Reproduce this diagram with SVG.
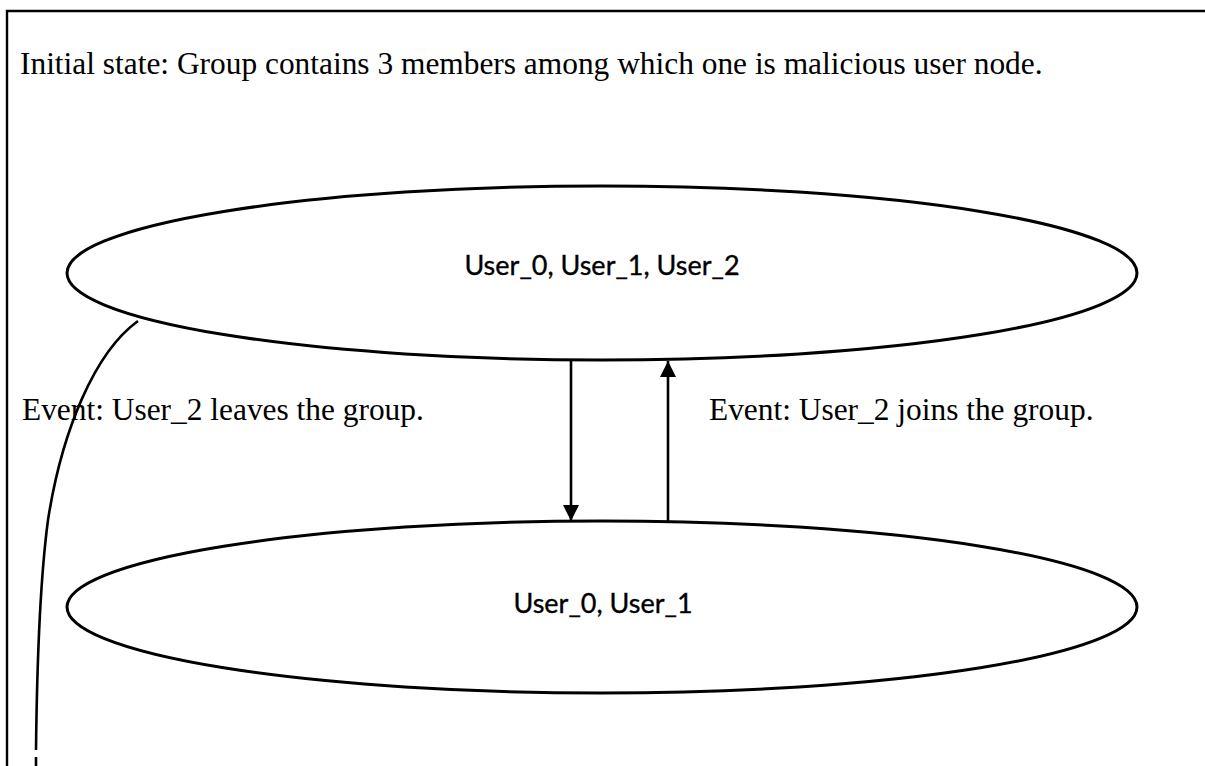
<svg xmlns="http://www.w3.org/2000/svg" width="1205" height="766" viewBox="0 0 1205 766">
  <style>
    .frame { fill: none; stroke: #000; stroke-width: 2.4; }
    .state { fill: none; stroke: #000; stroke-width: 3; }
    .edge { fill: none; stroke: #000; stroke-width: 2.6; }
    .serif { font-family: "Liberation Serif", "Times New Roman", serif; font-size: 31.4px; fill: #000; }
    .label { font-family: Lato, "Open Sans", sans-serif; font-size: 27px; fill: #000; stroke: #000; stroke-width: 0.35; text-anchor: middle; }
  </style>
  <defs>
    <marker id="head" viewBox="0 0 10 10" refX="10" refY="5" markerWidth="16" markerHeight="16" markerUnits="userSpaceOnUse" orient="auto">
      <path d="M0,0 L10,5 L0,10 Z" fill="#000"/>
    </marker>
  </defs>

  <rect width="1205" height="766" fill="#fff"/>

  <!-- outer frame: top and left edges only -->
  <path class="frame" d="M7,766 L7,11 L1205,11"/>

  <text class="serif" x="20" y="74">Initial state: Group contains 3 members among which one is malicious user node.</text>

  <g id="state-all">
    <ellipse class="state" cx="602" cy="273" rx="535" ry="87"/>
    <text class="label" x="602" y="275">User_0, User_1, User_2</text>
  </g>

  <g id="state-two">
    <ellipse class="state" cx="602" cy="607" rx="535" ry="86"/>
    <text class="label" x="603" y="613">User_0, User_1</text>
  </g>

  <g id="connectors">
    <line class="edge" x1="571" y1="360" x2="571" y2="521" marker-end="url(#head)"/>
    <line class="edge" x1="668" y1="522" x2="668" y2="361" marker-end="url(#head)"/>
    <path class="edge" d="M138,321 C95,352 62,430 48,520 C40,580 37,660 36,750"/>
    <path class="edge" d="M36,757 L36,766"/>
  </g>

  <text class="serif" x="22" y="420">Event: User_2 leaves the group.</text>
  <text class="serif" x="709" y="420">Event: User_2 joins the group.</text>
</svg>
